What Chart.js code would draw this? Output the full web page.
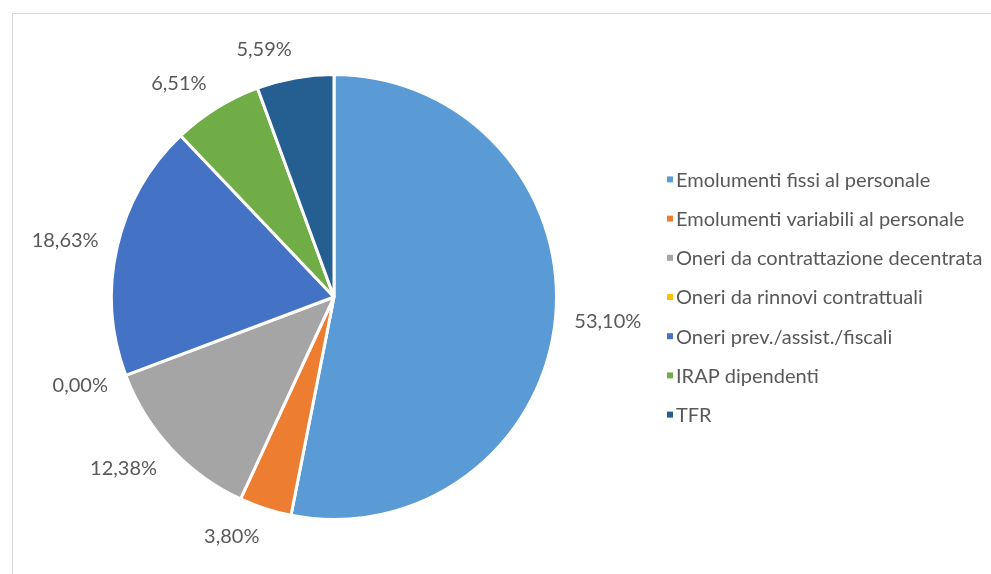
<!DOCTYPE html>
<html>
<head>
<meta charset="utf-8">
<script src="https://cdn.jsdelivr.net/npm/chart.js@4.4.1/dist/chart.umd.min.js"></script>
<style>
  html, body { margin: 0; padding: 0; background: #ffffff; overflow: hidden; }
  #wrap { position: relative; width: 991px; height: 574px; }
  #frame { position: absolute; left: 12px; top: 13px; width: 1000px; height: 600px; border: 1px solid #d9d9d9; box-sizing: border-box; }
  canvas { position: absolute; left: 0; top: 0; }
</style>
</head>
<body>
<div id="wrap">
  <div id="frame"></div>
  <canvas id="c" width="991" height="574"></canvas>
</div>
<script>
const categories = [
  'Emolumenti fissi al personale',
  'Emolumenti variabili al personale',
  'Oneri da contrattazione decentrata',
  'Oneri da rinnovi contrattuali',
  'Oneri prev./assist./fiscali',
  'IRAP dipendenti',
  'TFR'
];
const values = [53.10, 3.80, 12.38, 0.00, 18.63, 6.51, 5.59];
const colors = ['#5B9BD5', '#ED7D31', '#A5A5A5', '#FFC000', '#4472C4', '#70AD47', '#255E91'];

const FONT = '20px Lato, "Open Sans", sans-serif';
const TEXT_COLOR = '#595959';

function fmt(v) { return v.toFixed(2).replace('.', ',') + '%'; }

const outsideLabels = {
  id: 'outsideLabels',
  afterDatasetsDraw(chart) {
    const ctx = chart.ctx;
    const meta = chart.getDatasetMeta(0);
    ctx.save();
    ctx.font = FONT;
    ctx.fillStyle = TEXT_COLOR;
    ctx.textAlign = 'center';
    ctx.textBaseline = 'middle';
    meta.data.forEach((arc, i) => {
      const p = arc.getProps(['x', 'y', 'startAngle', 'endAngle', 'outerRadius'], true);
      const mid = (p.startAngle + p.endAngle) / 2;
      const ux = Math.cos(mid), uy = Math.sin(mid);
      const txt = fmt(chart.data.datasets[0].data[i]);
      const w = ctx.measureText(txt).width;
      const h = 20;
      const d = p.outerRadius + 19;
      const x = p.x + d * ux + Math.sign(ux) * w / 2;
      const y = p.y + d * uy + uy * h / 2;
      ctx.fillText(txt, x, y);
    });
    ctx.restore();
  }
};

const sideLegend = {
  id: 'sideLegend',
  afterDraw(chart) {
    const ctx = chart.ctx;
    const ds = chart.data.datasets[0];
    const n = chart.data.labels.length;
    const cy = (chart.chartArea.top + chart.chartArea.bottom) / 2;
    const step = 39.2;
    const x0 = 667;
    ctx.save();
    ctx.font = FONT;
    ctx.textAlign = 'left';
    ctx.textBaseline = 'middle';
    chart.data.labels.forEach((lab, i) => {
      const y = cy + (i - (n - 1) / 2) * step;
      ctx.fillStyle = ds.backgroundColor[i];
      ctx.fillRect(x0, y - 3, 6, 6);
      ctx.fillStyle = TEXT_COLOR;
      ctx.fillText(lab, x0 + 9, y + 1);
    });
    ctx.restore();
  }
};

new Chart(document.getElementById('c'), {
  type: 'pie',
  data: {
    labels: categories,
    datasets: [{
      data: values,
      backgroundColor: colors,
      borderColor: '#ffffff',
      borderWidth: 3
    }]
  },
  options: {
    responsive: false,
    animation: false,
    devicePixelRatio: 1,
    layout: { padding: { left: 110, right: 433, top: 73, bottom: 53 } },
    plugins: {
      legend: { display: false },
      tooltip: { enabled: false },
      title: { display: false }
    }
  },
  plugins: [outsideLabels, sideLegend]
});
</script>
</body>
</html>
